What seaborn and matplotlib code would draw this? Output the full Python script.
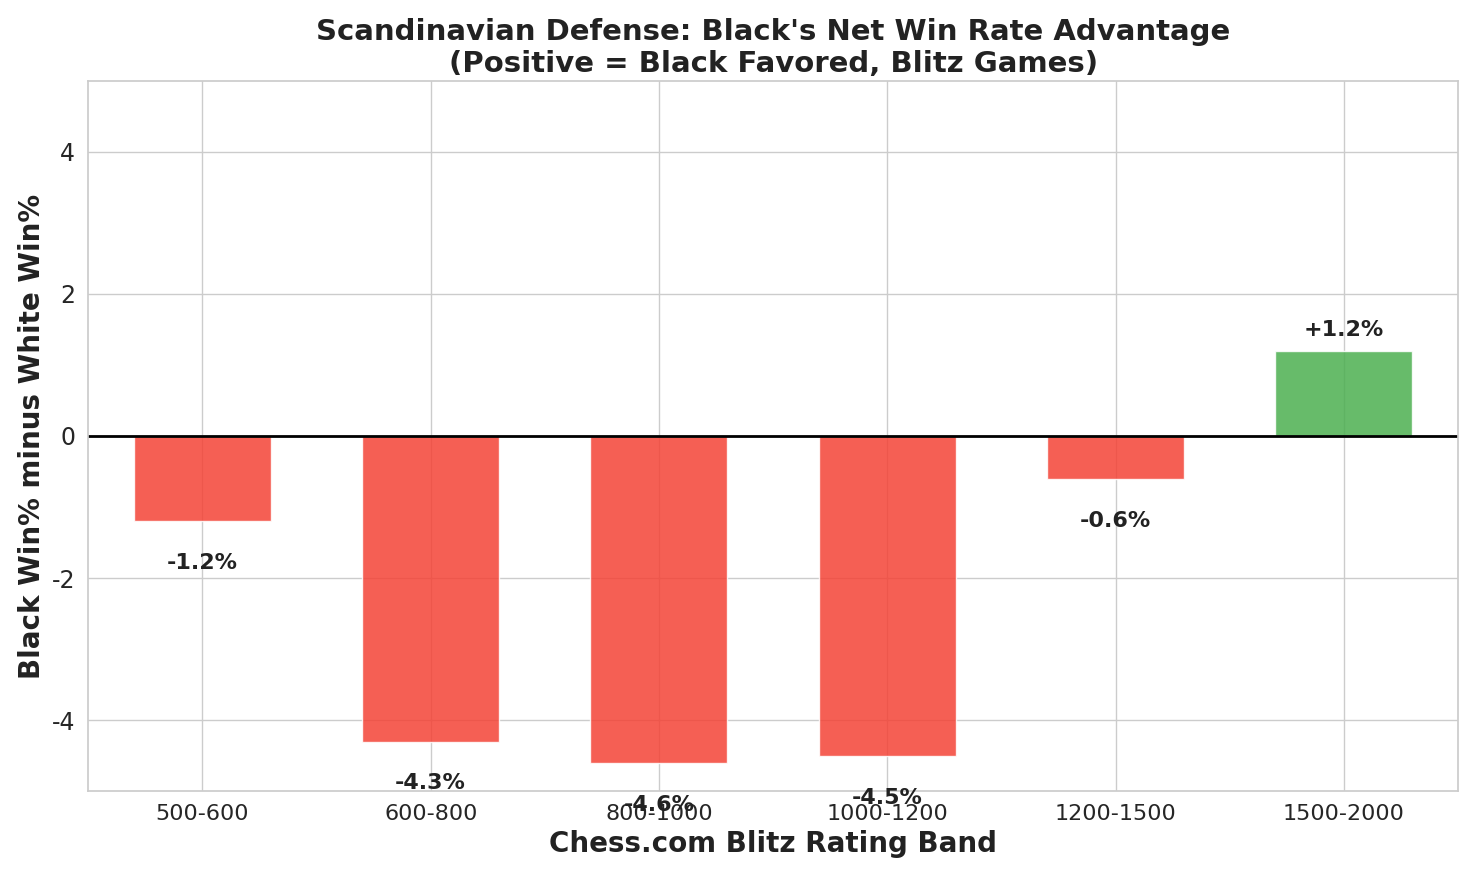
import matplotlib
matplotlib.use("Agg")
import matplotlib.pyplot as plt
import seaborn as sns
import pandas as pd

bands = ["500-600", "600-800", "800-1000", "1000-1200", "1200-1500", "1500-2000"]
net_adv = [-1.2, -4.3, -4.6, -4.5, -0.6, 1.2]

df = pd.DataFrame({"band": bands, "net": net_adv})
df["sign"] = ["pos" if v > 0 else "neg" for v in net_adv]

sns.set_theme(style="whitegrid", font_scale=1.0)
plt.rcParams["axes.unicode_minus"] = False
fig, ax = plt.subplots(figsize=(14.76, 8.76), dpi=100)

sns.barplot(data=df, x="band", y="net", hue="sign",
            palette={"neg": "#f44336", "pos": "#4caf50"}, saturation=1,
            dodge=False, width=0.6, alpha=0.85, legend=False, ax=ax)

ax.axhline(0, color="black", linewidth=2)
for i, v in enumerate(net_adv):
    if v > 0:
        ax.text(i, v + 0.15, f"+{v:.1f}%", ha="center", va="bottom",
                fontsize=16, fontweight="bold", color="#222222")
    else:
        ax.text(i, v - 0.45, f"{v:.1f}%", ha="center", va="top",
                fontsize=16, fontweight="bold", color="#222222")

ax.set_ylim(-5, 5)
ax.set_yticks([-4, -2, 0, 2, 4])
ax.tick_params(axis="y", labelsize=17)
ax.tick_params(axis="x", labelsize=16)
ax.set_title("Scandinavian Defense: Black's Net Win Rate Advantage\n(Positive = Black Favored, Blitz Games)",
             fontsize=21, fontweight="bold", color="#222222")
ax.set_xlabel("Chess.com Blitz Rating Band", fontsize=20, fontweight="bold", color="#222222")
ax.set_ylabel("Black Win% minus White Win%", fontsize=20, fontweight="bold", color="#222222")
ax.xaxis.grid(True)
for s in ax.spines.values():
    s.set_visible(True)
    s.set_color("#cccccc")

plt.tight_layout()
plt.savefig("out.png", dpi=100)
